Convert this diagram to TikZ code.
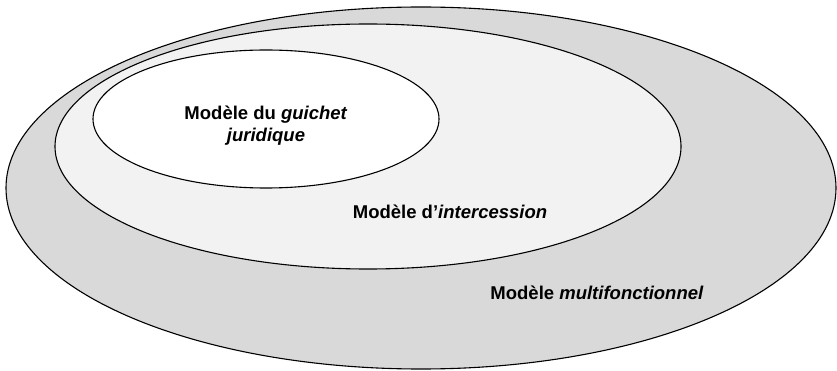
\documentclass[tikz,border=0pt]{standalone}
\usepackage{fontspec}
\setmainfont{Liberation Sans}
\begin{document}
\begin{tikzpicture}[x=1pt,y=-1pt,
  ring/.style={draw=black, line width=1.1pt},
  lbl/.style={font=\bfseries\fontsize{18.5}{22}\selectfont, inner sep=0pt, align=center}]
\useasboundingbox (0,0) rectangle (837,371);
\draw[ring, fill={rgb,255:red,217;green,217;blue,217}] (421,188) ellipse [x radius=415, y radius=181];
\draw[ring, fill={rgb,255:red,242;green,242;blue,242}] (368,146.5) ellipse [x radius=313, y radius=122.5];
\draw[ring, fill=white] (266,119) ellipse [x radius=173, y radius=69];
\node[lbl] (g) at (266,126) {Modèle du \textit{guichet}\\\textit{juridique}};
\node[lbl] (i) at (450,212) {Modèle d’\textit{intercession}};
\node[lbl] (m) at (597,293) {Modèle \textit{multifonctionnel}};
\end{tikzpicture}
\end{document}
